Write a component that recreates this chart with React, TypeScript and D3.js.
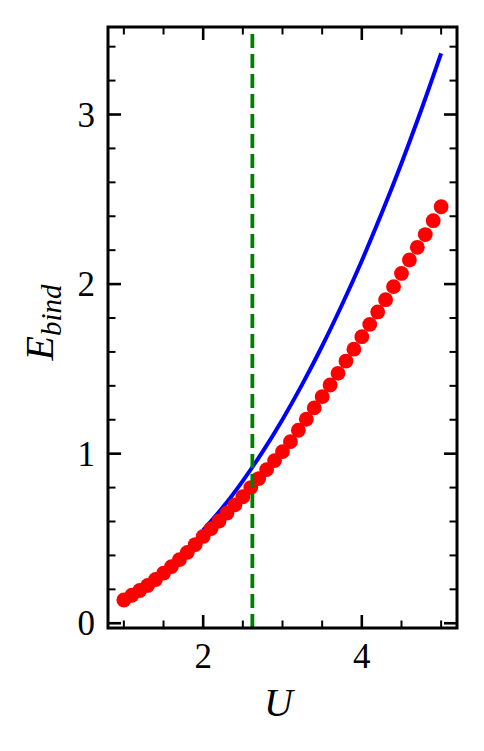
import React from "react";
import * as d3 from "d3";

// ---- data ----
const uValues: number[] = [
  1.0, 1.1, 1.2, 1.3, 1.4, 1.5, 1.6, 1.7, 1.8, 1.9,
  2.0, 2.1, 2.2, 2.3, 2.4, 2.5, 2.6, 2.7, 2.8, 2.9,
  3.0, 3.1, 3.2, 3.3, 3.4, 3.5, 3.6, 3.7, 3.8, 3.9,
  4.0, 4.1, 4.2, 4.3, 4.4, 4.5, 4.6, 4.7, 4.8, 4.9, 5.0,
];
const ebindPoints: number[] = [
  0.137, 0.165, 0.193, 0.223, 0.258, 0.295, 0.334, 0.375, 0.418, 0.464,
  0.512, 0.558, 0.603, 0.650, 0.698, 0.746, 0.800, 0.853, 0.906, 0.959,
  1.012, 1.071, 1.138, 1.203, 1.270, 1.336, 1.405, 1.474, 1.546, 1.616,
  1.690, 1.762, 1.836, 1.908, 1.985, 2.063, 2.142, 2.217, 2.292, 2.374, 2.456,
];
const uLine: number[] = [2.0, 2.25, 2.5, 2.75, 3.0, 3.25, 3.5, 3.75, 4.0, 4.25, 4.5, 4.75, 5.0];
const ebindLine: number[] = [0.55, 0.685, 0.84, 1.012, 1.202, 1.41, 1.635, 1.878, 2.138, 2.417, 2.713, 3.028, 3.36];
const uCritical = 2.62;
const xMajorTicks: number[] = [2, 4];
const xMinorTicks: number[] = [1, 1.5, 2.5, 3, 3.5, 4.5, 5];
const yMajorTicks: number[] = [0, 1, 2, 3];
const yMinorTicks: number[] = [0.2, 0.4, 0.6, 0.8, 1.2, 1.4, 1.6, 1.8, 2.2, 2.4, 2.6, 2.8, 3.2, 3.4];

const W = 484;
const H = 751;
const left = 108, right = 457, top = 27, bottom = 628;

export default function App() {
  const x = d3.scaleLinear().domain([0.8, 5.2]).range([left, right]);
  const y = d3.scaleLinear().domain([-0.028, 3.516]).range([bottom, top]);

  const lineGen = d3
    .line<number>()
    .x((_, i) => x(uLine[i]))
    .y((d) => y(d))
    .curve(d3.curveCatmullRom);

  const font = "'Liberation Serif', 'DejaVu Serif', serif";
  const majLen = 13, minLen = 7.5;

  return (
    <svg
      width={W}
      height={H}
      style={{ position: "absolute", left: 0, top: 0, background: "#fff" }}
    >
      <rect x={0} y={0} width={W} height={H} fill="#fff" />
      <defs>
        <clipPath id="plotclip">
          <rect x={left} y={top} width={right - left} height={bottom - top} />
        </clipPath>
      </defs>
      <g clipPath="url(#plotclip)">
        <path d={lineGen(ebindLine) || ""} fill="none" stroke="#0000ff" strokeWidth={4} />
        {ebindPoints.map((v, i) => (
          <circle key={i} cx={x(uValues[i])} cy={y(v)} r={7.4} fill="#ff0000" />
        ))}
        <line
          x1={x(uCritical)}
          x2={x(uCritical)}
          y1={bottom}
          y2={top}
          stroke="#008000"
          strokeWidth={3.8}
          strokeDasharray="14 6"
        />
      </g>

      {/* ticks */}
      {xMajorTicks.map((t) => (
        <g key={"xM" + t}>
          <line x1={x(t)} x2={x(t)} y1={bottom} y2={bottom - majLen} stroke="#000" strokeWidth={2.6} />
          <line x1={x(t)} x2={x(t)} y1={top} y2={top + majLen} stroke="#000" strokeWidth={2.6} />
          <text x={x(t)} y={bottom + 40} textAnchor="middle" fontFamily={font} fontSize={35}>
            {t}
          </text>
        </g>
      ))}
      {xMinorTicks.map((t) => (
        <g key={"xm" + t}>
          <line x1={x(t)} x2={x(t)} y1={bottom} y2={bottom - minLen} stroke="#000" strokeWidth={2} />
          <line x1={x(t)} x2={x(t)} y1={top} y2={top + minLen} stroke="#000" strokeWidth={2} />
        </g>
      ))}
      {yMajorTicks.map((t) => (
        <g key={"yM" + t}>
          <line x1={left} x2={left + majLen} y1={y(t)} y2={y(t)} stroke="#000" strokeWidth={2.6} />
          <line x1={right} x2={right - majLen} y1={y(t)} y2={y(t)} stroke="#000" strokeWidth={2.6} />
          <text x={left - 13} y={y(t) + 12} textAnchor="end" fontFamily={font} fontSize={35}>
            {t}
          </text>
        </g>
      ))}
      {yMinorTicks.map((t) => (
        <g key={"ym" + t}>
          <line x1={left} x2={left + minLen} y1={y(t)} y2={y(t)} stroke="#000" strokeWidth={2} />
          <line x1={right} x2={right - minLen} y1={y(t)} y2={y(t)} stroke="#000" strokeWidth={2} />
        </g>
      ))}

      {/* frame */}
      <rect
        x={left}
        y={top}
        width={right - left}
        height={bottom - top}
        fill="none"
        stroke="#000"
        strokeWidth={3}
      />

      {/* axis labels */}
      <text
        x={(left + right) / 2 - 4}
        y={716}
        textAnchor="middle"
        fontFamily={font}
        fontStyle="italic"
        fontSize={40}
      >
        U
      </text>
      <text
        transform={`translate(53, ${(top + bottom) / 2 - 5}) rotate(-90)`}
        textAnchor="middle"
        fontFamily={font}
        fontStyle="italic"
        fontSize={40}
      >
        E
        <tspan fontSize={29} dy={8}>
          bind
        </tspan>
      </text>
    </svg>
  );
}
